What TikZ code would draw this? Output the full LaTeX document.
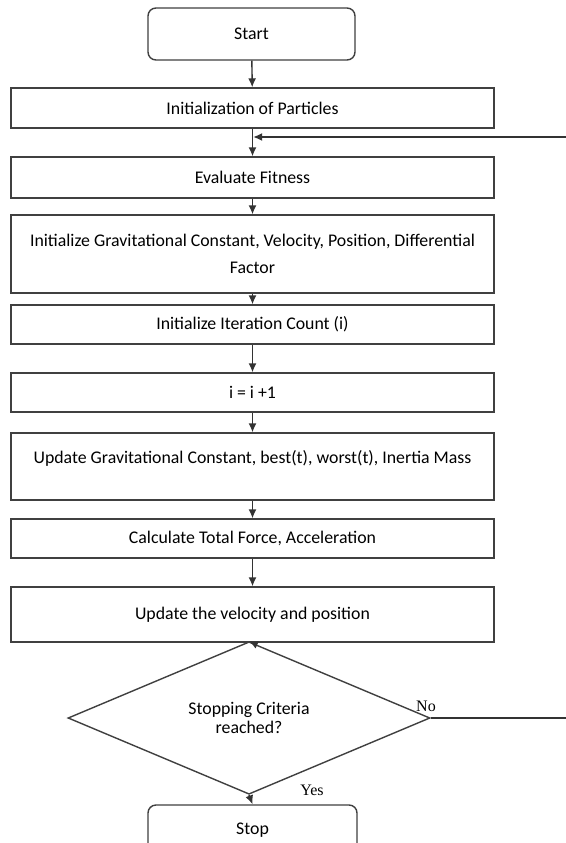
\documentclass[tikz,border=0pt]{standalone}
\usepackage{fontspec}
\setmainfont{Carlito}
\newfontfamily\yesnofont{Liberation Serif}
\usetikzlibrary{shapes.geometric,arrows.meta}
\tikzset{
  box/.style={draw=black!75, line width=1.4pt, minimum width=483pt, inner sep=0pt,
    align=center, text=black, font=\fontsize{17.8}{19}\selectfont},
  term/.style={box, rounded corners=8pt, minimum width=207pt},
  test/.style={box, diamond, minimum width=362pt, minimum height=119pt},
  flow/.style={draw=black!80, line width=1.4pt, -{Latex[length=9pt,width=8pt]}},
  lbl/.style={text=black, font=\yesnofont\fontsize{16}{18}\selectfont}
}
\begin{document}
\begin{tikzpicture}[x=1pt,y=-1pt]
\path[use as bounding box, fill=white] (0,0) rectangle (565,843);

\node[term, minimum height=52pt] (start) at (251.5,34) {Start};
\node[box, minimum height=40pt] (init) at (252.5,108) {Initialization of Particles};
\coordinate (join) at (252.5,137);
\node[box, minimum height=41pt] (eval) at (252.5,177.5) {Evaluate Fitness};
\node[box, minimum height=78pt] (initg) at (252.5,254)
  {Initialize Gravitational Constant, Velocity, Position, Differential\\[8pt]Factor};
\node[box, minimum height=39pt] (iter) at (252.5,324.5) {Initialize Iteration Count (i)};
\node[box, minimum height=39pt] (incr) at (252.5,392.5) {i = i +1};
\node[box, minimum height=67pt] (updg) at (252.5,466.5)
  {Update Gravitational Constant, best(t), worst(t), Inertia Mass\\\mbox{}};
\node[box, minimum height=39pt] (calc) at (252.5,538.5) {Calculate Total Force, Acceleration};
\node[box, minimum height=55pt] (updv) at (252.5,614.5) {Update the velocity and position};
\node[test] (dia) at (249,718) {Stopping Criteria\\reached?};
\node[term, minimum width=209pt, minimum height=50pt] (stop) at (252.5,830) {Stop};

\node[lbl] (no) at (426,706) {No};
\node[lbl] (yes) at (312,790) {Yes};

\draw[flow] (start) -- (init);
\draw[flow] (init) -- (eval);
\draw[flow] (eval) -- (initg);
\draw[flow] (initg) -- (iter);
\draw[flow] (iter) -- (incr);
\draw[flow] (incr) -- (updg);
\draw[flow] (updg) -- (calc);
\draw[flow] (calc) -- (updv);
\draw[flow] (updv.south) -- (dia.north);
\draw[flow] (dia.south) -- (stop.north);
% loop back, its right side runs off the page
\draw[flow] (dia.east) -- ++(145,0) |- ([xshift=0.7pt]join);
\end{tikzpicture}
\end{document}
